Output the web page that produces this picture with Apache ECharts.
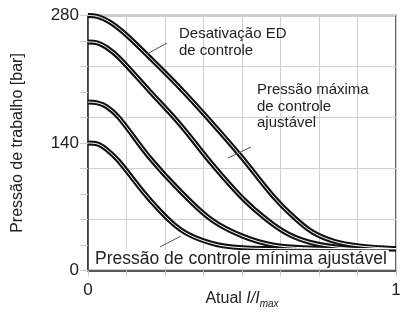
<!DOCTYPE html>
<html>
<head>
<meta charset="utf-8">
<script src="https://cdn.jsdelivr.net/npm/echarts@6/dist/echarts.min.js"></script>
<style>
  html, body { margin: 0; padding: 0; background: #fff; }
  #chart { width: 400px; height: 313px; }
</style>
</head>
<body>
<div id="chart"></div>
<script>
// curvas (corrente relativa, pressão em bar)
const curveDesativacao = [[0,280],[0.03,279],[0.07,273],[0.12,260],[0.2,234],[0.3,200],[0.4,163],[0.5,124],[0.6,82],[0.67,58],[0.73,42],[0.8,32],[0.88,27],[1,24]];
const curveMaxima = [[0,251],[0.03,250],[0.06,245],[0.1,234],[0.2,197],[0.3,160],[0.4,118],[0.5,80],[0.58,56],[0.65,40],[0.72,31],[0.8,26],[0.9,24],[1,24]];
const curveMedia = [[0,185],[0.03,184],[0.06,180],[0.1,168],[0.2,124],[0.3,87],[0.4,56],[0.5,38],[0.6,28],[0.7,25],[0.85,24],[1,24]];
const curveBaixa = [[0,140],[0.03,139],[0.06,133],[0.1,120],[0.2,78],[0.3,45],[0.4,30],[0.5,25],[0.65,24],[1,24]];
const yTickLabels = [0, 140, 280];
const xTickLabels = [0, 1];

const FONT = 'Liberation Sans';

// cada curva é desenhada como linha dupla: preta grossa + branca fina por cima
function dupla(data) {
  return [
    { type: 'line', data: data, smooth: 0.35, symbol: 'none', silent: true,
      lineStyle: { color: '#111', width: 5 }, z: 3 },
    { type: 'line', data: data, smooth: 0.35, symbol: 'none', silent: true,
      lineStyle: { color: '#fff', width: 1 }, z: 4 }
  ];
}

const chart = echarts.init(document.getElementById('chart'), null, { renderer: 'canvas' });

const option = {
  animation: false,
  backgroundColor: '#fff',
  grid: { left: 88, right: 4, top: 15.5, bottom: 42.5, show: true, outerBoundsMode: 'none',
    borderColor: '#333', borderWidth: 1.5, backgroundColor: 'transparent' },
  xAxis: {
    type: 'value', min: 0, max: 1, interval: 0.125,
    name: '{n|Atual }{i|I/I}{s|max}',
    nameLocation: 'middle', nameGap: 17, nameMoveOverlap: false,
    nameTextStyle: {
      verticalAlign: 'top',
      rich: {
        n: { fontFamily: FONT, fontSize: 16, color: '#222', lineHeight: 22, verticalAlign: 'middle' },
        i: { fontFamily: FONT, fontSize: 16, color: '#222', fontStyle: 'italic', lineHeight: 22, verticalAlign: 'middle' },
        s: { fontFamily: FONT, fontSize: 10, color: '#222', fontStyle: 'italic', lineHeight: 22, verticalAlign: 'bottom' }
      }
    },
    axisLine: { lineStyle: { color: '#333', width: 1.5 } },
    axisTick: { show: true, inside: false, length: 6, lineStyle: { color: '#ccc' } },
    axisLabel: { fontFamily: FONT, fontSize: 17, color: '#222', margin: 11,
      formatter: v => xTickLabels.includes(v) ? String(v) : '' },
    splitLine: { show: true, lineStyle: { color: '#d0d0d0', width: 1 } }
  },
  yAxis: [{
    type: 'value', min: 0, max: 280, interval: 28,
    name: 'Pressão de trabalho [bar]',
    nameLocation: 'middle', nameGap: 62, nameMoveOverlap: false,
    nameTextStyle: { fontFamily: FONT, fontSize: 16, color: '#222' },
    axisLine: { lineStyle: { color: '#333', width: 1.5 } },
    axisTick: { show: true, inside: false, length: 8, lineStyle: { color: '#ccc' } },
    axisLabel: { fontFamily: FONT, fontSize: 17, color: '#222', margin: 9,
      formatter: v => yTickLabels.includes(v) ? String(v) : '' },
    splitLine: { show: false }
  }, {
    // só as linhas de grade a cada 56 bar
    type: 'value', min: 0, max: 280, interval: 56, position: 'left',
    axisLine: { show: false }, axisTick: { show: false }, axisLabel: { show: false },
    splitLine: { show: true, lineStyle: { color: '#d0d0d0', width: 1 } }
  }],
  series: [
    ...dupla(curveDesativacao),
    ...dupla(curveMaxima),
    ...dupla(curveMedia),
    ...dupla(curveBaixa)
  ],
  graphic: [
    { type: 'line', shape: { x1: 167, y1: 43, x2: 147, y2: 54 }, style: { stroke: '#555', lineWidth: 1 }, z: 10 },
    { type: 'text', left: 179, top: 25, z: 10,
      style: { text: 'Desativação ED\nde controle', font: '15px ' + FONT, fill: '#222', lineHeight: 17 } },
    { type: 'line', shape: { x1: 251, y1: 147, x2: 228, y2: 158 }, style: { stroke: '#555', lineWidth: 1 }, z: 10 },
    { type: 'text', left: 257, top: 82, z: 10,
      style: { text: 'Pressão máxima\nde controle\najustável', font: '15px ' + FONT, fill: '#222', lineHeight: 16.5 } },
    { type: 'line', shape: { x1: 160, y1: 247, x2: 181, y2: 236 }, style: { stroke: '#555', lineWidth: 1 }, z: 10 },
    { type: 'text', left: 93, top: 250, z: 10,
      style: { text: 'Pressão de controle mínima ajustável', font: '17.5px ' + FONT, fill: '#222',
        backgroundColor: '#fff', padding: [0, 2, 0, 2] } }
  ]
};

chart.setOption(option);
</script>
</body>
</html>
